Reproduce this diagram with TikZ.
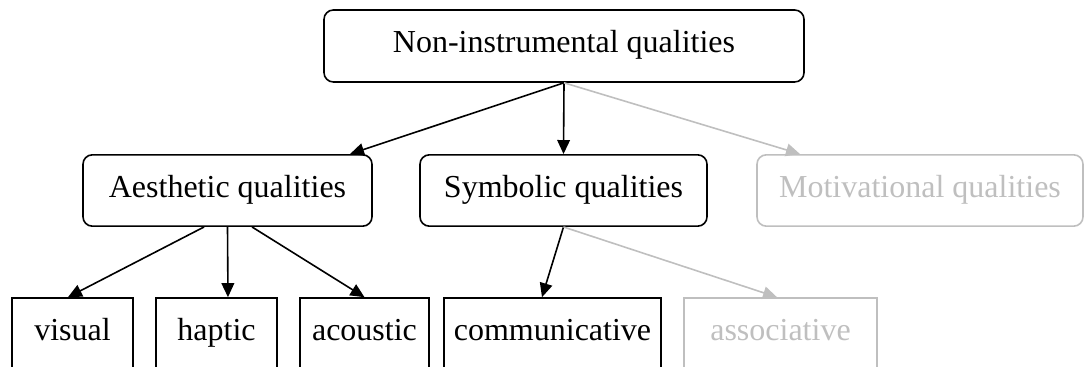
\documentclass[tikz,border=0pt]{standalone}
\usepackage{fontspec}
\setmainfont{Liberation Serif}
\usetikzlibrary{arrows.meta,positioning}

\begin{document}
\begin{tikzpicture}[
  x=0.75pt, y=-0.75pt,
  box/.style={rectangle, draw=black, line width=1.2pt, align=center, inner sep=0pt,
    text height=17pt, text depth=7.2pt, font=\fontsize{24}{28}\selectfont},
  cat/.style={box, rounded corners=7pt, minimum height=53.5pt},
  leaf/.style={box, minimum height=54pt},
  faded/.style={draw=black!25, text=black!25},
  arr/.style={-{Triangle[length=10.5pt,width=9.5pt]}, line width=1.2pt},
  farr/.style={arr, draw=black!25, fill=black!25}
]
\useasboundingbox (0,0) rectangle (1085,367);
\clip (0,0) rectangle (1085,367);

\node[cat, minimum width=360pt, minimum height=54pt] (nonins) at (564,46) {Non-instrumental qualities};

\node[cat, minimum width=216.75pt] (aesth) at (227.5,190.5) {Aesthetic qualities};
\node[cat, minimum width=215.25pt] (symb) at (563.5,190.5) {Symbolic qualities};
\node[cat, faded, minimum width=244.5pt] (motiv) at (920,190.5) {Motivational qualities};

\node[leaf, minimum width=90.75pt] (visual) at (72.5,334) {visual};
\node[leaf, minimum width=90.75pt] (haptic) at (216.5,334) {haptic};
\node[leaf, minimum width=96.75pt] (acoustic) at (364.5,334) {acoustic};
\node[leaf, minimum width=162.75pt] (commun) at (552.5,334) {communicative};
\node[leaf, faded, minimum width=144.75pt] (assoc) at (780.5,334) {associative};

\draw[arr] (nonins.south) -- ([xshift=91.9pt]aesth.north);
\draw[arr] (nonins.south) -- (symb.north);
\draw[farr] (nonins.south) -- ([xshift=-90pt]motiv.north);
\draw[arr] ([xshift=-17.6pt]aesth.south) -- ([xshift=-3.4pt]visual.north);
\draw[arr] (aesth.south) -- ([xshift=8.6pt]haptic.north);
\draw[arr] ([xshift=18.4pt]aesth.south) -- (acoustic.north);
\draw[arr] (symb.south) -- ([xshift=-7.9pt]commun.north);
\draw[farr] (symb.south) -- ([xshift=-2.6pt]assoc.north);
\end{tikzpicture}
\end{document}
